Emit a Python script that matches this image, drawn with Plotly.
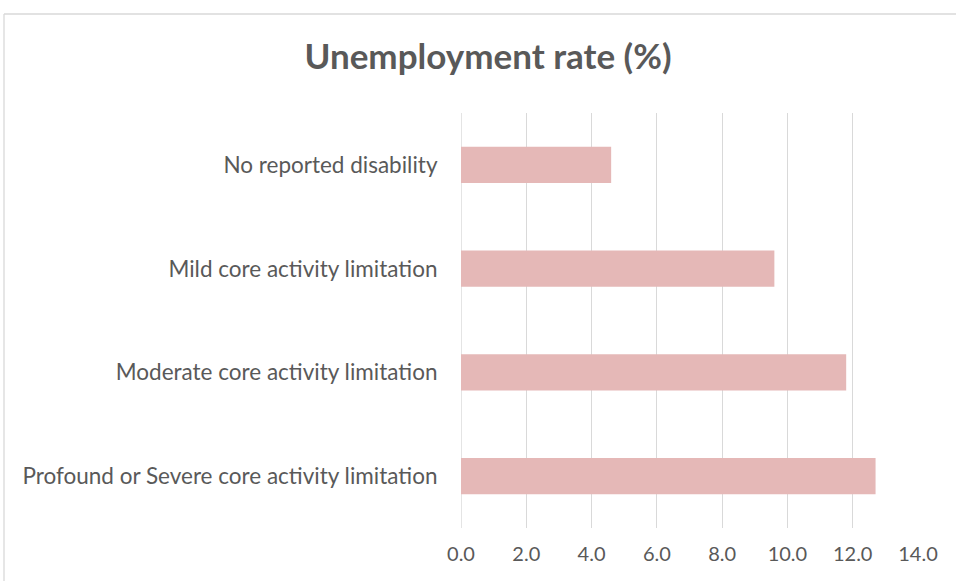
import plotly.graph_objects as go

# Unemployment rate by disability status
categories = [
    "No reported disability",
    "Mild core activity limitation",
    "Moderate core activity limitation",
    "Profound or Severe core activity limitation",
]
rates = [4.6, 9.6, 11.8, 12.7]
x_ticks = [0, 2, 4, 6, 8, 10, 12, 14]
x_tick_labels = ["0.0", "2.0", "4.0", "6.0", "8.0", "10.0", "12.0", "14.0"]

W, H = 956, 581
L, R, T, B = 461, 38, 113, 53

fig = go.Figure(
    go.Bar(
        x=rates,
        y=categories,
        orientation="h",
        marker=dict(color="#E5B8B7", line=dict(width=0)),
        hoverinfo="x+y",
    )
)

font_family = "Lato, 'Open Sans', sans-serif"
text_color = "#595959"
grid_color = "#D9D9D9"

fig.update_layout(
    width=W,
    height=H,
    margin=dict(l=L, r=R, t=T, b=B, pad=0),
    paper_bgcolor="white",
    plot_bgcolor="white",
    bargap=0.65,
    showlegend=False,
    title=dict(
        text="<b>Unemployment rate (%)</b>",
        font=dict(family=font_family, size=35, color=text_color),
        x=488 / W,
        xanchor="center",
        y=1 - 57 / H,
        yanchor="middle",
    ),
    xaxis=dict(
        range=[0, 14],
        tickvals=x_ticks,
        ticktext=x_tick_labels,
        showgrid=True,
        gridcolor=grid_color,
        gridwidth=1.4,
        zeroline=False,
        showline=False,
        ticks="outside",
        ticklen=8,
        tickcolor="rgba(0,0,0,0)",
        tickfont=dict(family=font_family, size=20, color=text_color),
        fixedrange=True,
    ),
    yaxis=dict(
        autorange="reversed",
        showgrid=False,
        zeroline=False,
        showline=False,
        ticks="outside",
        ticklen=18,
        tickcolor="rgba(0,0,0,0)",
        tickfont=dict(family=font_family, size=22.5, color=text_color),
        fixedrange=True,
    ),
)

# Left gridline at x = 0
fig.add_vline(x=0, line=dict(color=grid_color, width=1.4), layer="below")

# Chart-area frame: top and left edges
px2x = lambda px: (px - L) / (W - L - R)
px2y = lambda py: (H - B - py) / (H - T - B)
fig.add_shape(type="line", xref="paper", yref="paper",
              x0=px2x(4), x1=px2x(W + 5), y0=px2y(14), y1=px2y(14),
              line=dict(color=grid_color, width=1.3))
fig.add_shape(type="line", xref="paper", yref="paper",
              x0=px2x(4), x1=px2x(4), y0=px2y(14), y1=px2y(H + 5),
              line=dict(color=grid_color, width=1.3))

fig.write_html("out.html")
